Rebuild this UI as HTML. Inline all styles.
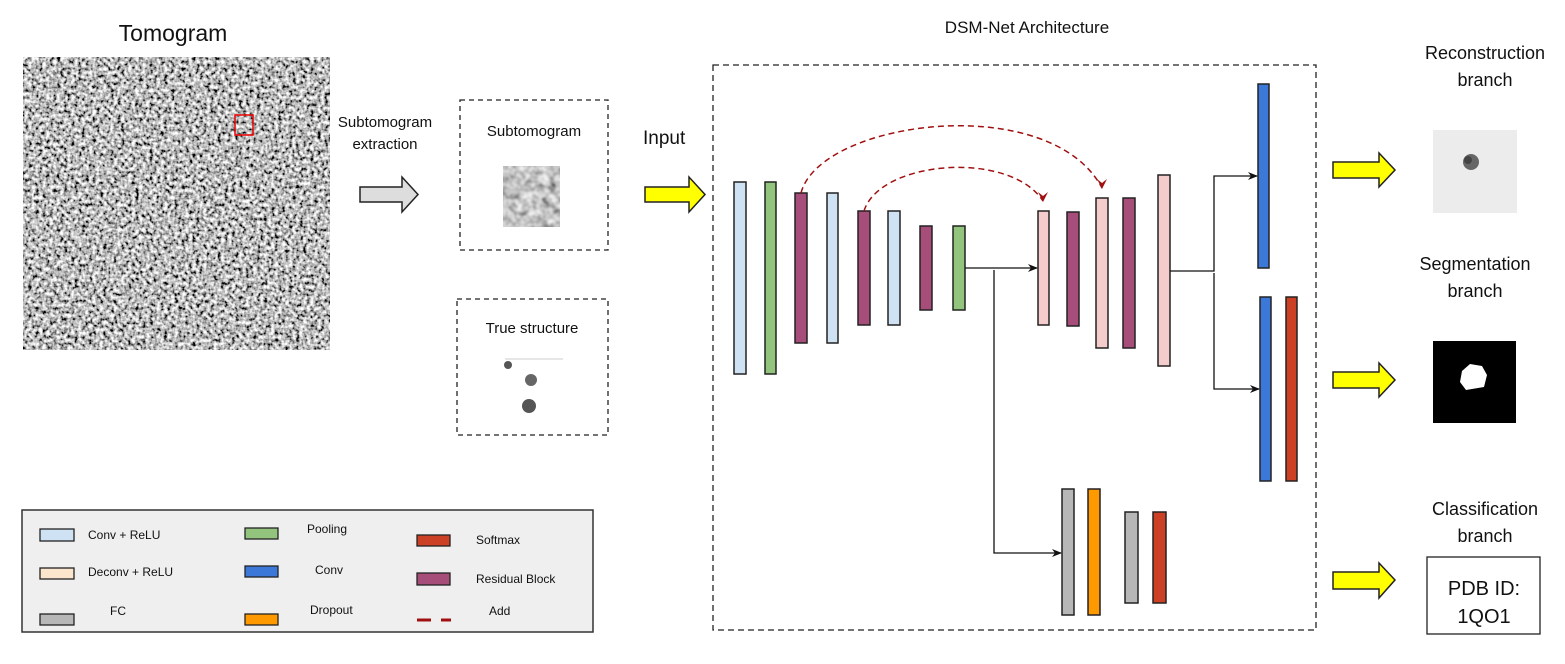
<!DOCTYPE html>
<html><head><meta charset="utf-8"><style>body{margin:0;background:#fff}svg{display:block}text{font-family:"Liberation Sans",Arial,sans-serif;fill:#111}</style></head><body>
<svg width="1565" height="664" viewBox="0 0 1565 664" xmlns="http://www.w3.org/2000/svg">
<defs>
<filter id="noise" x="0" y="0" width="100%" height="100%"><feTurbulence type="fractalNoise" baseFrequency="0.28" numOctaves="2" seed="3"/><feColorMatrix type="matrix" values="1 0 0 0 0 1 0 0 0 0 1 0 0 0 0 0 0 0 0 1"/><feComponentTransfer><feFuncR type="linear" slope="2.2" intercept="-0.6"/><feFuncG type="linear" slope="2.2" intercept="-0.6"/><feFuncB type="linear" slope="2.2" intercept="-0.6"/></feComponentTransfer></filter>
<filter id="noise2" x="0" y="0" width="100%" height="100%"><feTurbulence type="fractalNoise" baseFrequency="0.12" numOctaves="2" seed="7"/><feColorMatrix type="matrix" values="1 0 0 0 0 1 0 0 0 0 1 0 0 0 0 0 0 0 0 1"/><feComponentTransfer><feFuncR type="linear" slope="1.2" intercept="-0.05"/><feFuncG type="linear" slope="1.2" intercept="-0.05"/><feFuncB type="linear" slope="1.2" intercept="-0.05"/></feComponentTransfer></filter>
<marker id="ab" markerWidth="10" markerHeight="8" refX="9" refY="4" orient="auto" markerUnits="userSpaceOnUse"><path d="M0,0 L10,4 L0,8 L3,4z" fill="#111"/></marker>
<marker id="ar" markerWidth="10" markerHeight="10" refX="5" refY="9" orient="0" markerUnits="userSpaceOnUse"><path d="M0,0 L5,10 L10,0 L5,4z" fill="#a01010"/></marker>
</defs>
<text x="173" y="41" font-size="23" text-anchor="middle">Tomogram</text>
<rect x="23" y="57" width="307" height="293" filter="url(#noise)"/>
<rect x="235" y="115" width="18" height="20" fill="none" stroke="#e00" stroke-width="1.5"/>
<text x="385" y="127" font-size="15" text-anchor="middle">Subtomogram</text>
<text x="385" y="149" font-size="15" text-anchor="middle">extraction</text>
<polygon points="360,187 402,187 402,177 418,194.5 402,212 402,202 360,202" fill="#ddd" stroke="#222" stroke-width="1.5"/>
<rect x="460" y="100" width="148" height="150" fill="none" stroke="#222" stroke-width="1.3" stroke-dasharray="5,4"/>
<text x="534" y="136" font-size="15" text-anchor="middle">Subtomogram</text>
<rect x="503" y="166" width="57" height="61" filter="url(#noise2)"/>
<rect x="457" y="299" width="151" height="136" fill="none" stroke="#222" stroke-width="1.3" stroke-dasharray="5,4"/>
<text x="532" y="333" font-size="15" text-anchor="middle">True structure</text>
<line x1="505" y1="359" x2="563" y2="359" stroke="#ccc"/>
<circle cx="531" cy="380" r="6" fill="#666"/><circle cx="529" cy="406" r="7" fill="#555"/><circle cx="508" cy="365" r="4" fill="#555"/>
<text x="643" y="144" font-size="19">Input</text>
<polygon points="645,187 689,187 689,177 705,194.5 689,212 689,202 645,202" fill="#ff0" stroke="#222" stroke-width="1.5"/>
<text x="1027" y="33" font-size="17" text-anchor="middle">DSM-Net Architecture</text>
<rect x="713" y="65" width="603" height="565" fill="none" stroke="#222" stroke-width="1.3" stroke-dasharray="6,4"/>
<g stroke="#222" stroke-width="1.5">
<rect x="734" y="182" width="12" height="192" fill="#cfe2f3"/>
<rect x="765" y="182" width="11" height="192" fill="#93c47d"/>
<rect x="795" y="193" width="12" height="150" fill="#a64d79"/>
<rect x="827" y="193" width="11" height="150" fill="#cfe2f3"/>
<rect x="858" y="211" width="12" height="114" fill="#a64d79"/>
<rect x="888" y="211" width="12" height="114" fill="#cfe2f3"/>
<rect x="920" y="226" width="12" height="84" fill="#a64d79"/>
<rect x="953" y="226" width="12" height="84" fill="#93c47d"/>
<rect x="1038" y="211" width="11" height="114" fill="#f4cccc"/>
<rect x="1067" y="212" width="12" height="114" fill="#a64d79"/>
<rect x="1096" y="198" width="12" height="150" fill="#f4cccc"/>
<rect x="1123" y="198" width="12" height="150" fill="#a64d79"/>
<rect x="1158" y="175" width="12" height="191" fill="#f4cccc"/>
<rect x="1258" y="84" width="11" height="184" fill="#3c78d8"/>
<rect x="1260" y="297" width="11" height="184" fill="#3c78d8"/>
<rect x="1286" y="297" width="11" height="184" fill="#cc4125"/>
<rect x="1062" y="489" width="12" height="126" fill="#b7b7b7"/>
<rect x="1088" y="489" width="12" height="126" fill="#ff9900"/>
<rect x="1125" y="512" width="13" height="91" fill="#b7b7b7"/>
<rect x="1153" y="512" width="13" height="91" fill="#cc4125"/>
</g>
<g stroke="#111" stroke-width="1.3" fill="none">
<line x1="965" y1="268" x2="1037" y2="268" marker-end="url(#ab)"/>
<polyline points="994,270 994,553 1061,553" marker-end="url(#ab)"/>
<polyline points="1170,271 1214,271 1214,176 1257,176" marker-end="url(#ab)"/>
<polyline points="1214,273 1214,389 1259,389" marker-end="url(#ab)"/>
</g>
<g stroke="#a01010" stroke-width="1.5" fill="none" stroke-dasharray="6,4">
<path d="M801,193 C820,120 1050,90 1102,188" marker-end="url(#ar)"/>
<path d="M864,211 C880,160 1010,150 1043,201" marker-end="url(#ar)"/>
</g>
<text x="1485" y="59" font-size="18" text-anchor="middle">Reconstruction</text>
<text x="1485" y="86" font-size="18" text-anchor="middle">branch</text>
<polygon points="1333,162 1379,162 1379,153 1395,170 1379,187 1379,178 1333,178" fill="#ff0" stroke="#222" stroke-width="1.5"/>
<rect x="1433" y="130" width="84" height="83" fill="#ececec"/>
<circle cx="1471" cy="162" r="8" fill="#666"/><circle cx="1468" cy="160" r="4" fill="#444"/>
<text x="1475" y="270" font-size="18" text-anchor="middle">Segmentation</text>
<text x="1475" y="297" font-size="18" text-anchor="middle">branch</text>
<polygon points="1333,372 1379,372 1379,363 1395,380 1379,397 1379,388 1333,388" fill="#ff0" stroke="#222" stroke-width="1.5"/>
<rect x="1433" y="341" width="83" height="82" fill="#000"/>
<polygon points="1462,371 1470,364 1482,366 1487,375 1484,387 1466,390 1460,382" fill="#fff"/>
<text x="1485" y="515" font-size="18" text-anchor="middle">Classification</text>
<text x="1485" y="542" font-size="18" text-anchor="middle">branch</text>
<polygon points="1333,572 1379,572 1379,563 1395,580 1379,598 1379,589 1333,589" fill="#ff0" stroke="#222" stroke-width="1.5"/>
<rect x="1427" y="557" width="113" height="77" fill="#fff" stroke="#222" stroke-width="1.3"/>
<text x="1484" y="595" font-size="20" text-anchor="middle">PDB ID:</text>
<text x="1484" y="623" font-size="20" text-anchor="middle">1QO1</text>
<rect x="22" y="510" width="571" height="122" fill="#efefef" stroke="#333" stroke-width="1.5"/>
<g stroke="#222" stroke-width="1.3">
<rect x="40" y="529" width="34" height="12" fill="#cfe2f3"/>
<rect x="40" y="568" width="34" height="11" fill="#fce5cd"/>
<rect x="40" y="614" width="34" height="11" fill="#b7b7b7"/>
<rect x="245" y="528" width="33" height="11" fill="#93c47d"/>
<rect x="245" y="566" width="33" height="11" fill="#3c78d8"/>
<rect x="245" y="614" width="33" height="11" fill="#ff9900"/>
<rect x="417" y="535" width="33" height="11" fill="#cc4125"/>
<rect x="417" y="573" width="33" height="12" fill="#a64d79"/>
</g>
<line x1="417" y1="620" x2="431" y2="620" stroke="#a01010" stroke-width="3"/>
<line x1="441" y1="620" x2="451" y2="620" stroke="#a01010" stroke-width="3"/>
<g font-size="12">
<text x="88" y="539">Conv + ReLU</text>
<text x="88" y="576">Deconv + ReLU</text>
<text x="110" y="615">FC</text>
<text x="307" y="533">Pooling</text>
<text x="315" y="574">Conv</text>
<text x="310" y="614">Dropout</text>
<text x="476" y="544">Softmax</text>
<text x="476" y="583">Residual Block</text>
<text x="489" y="615">Add</text>
</g>
</svg>
</body></html>
